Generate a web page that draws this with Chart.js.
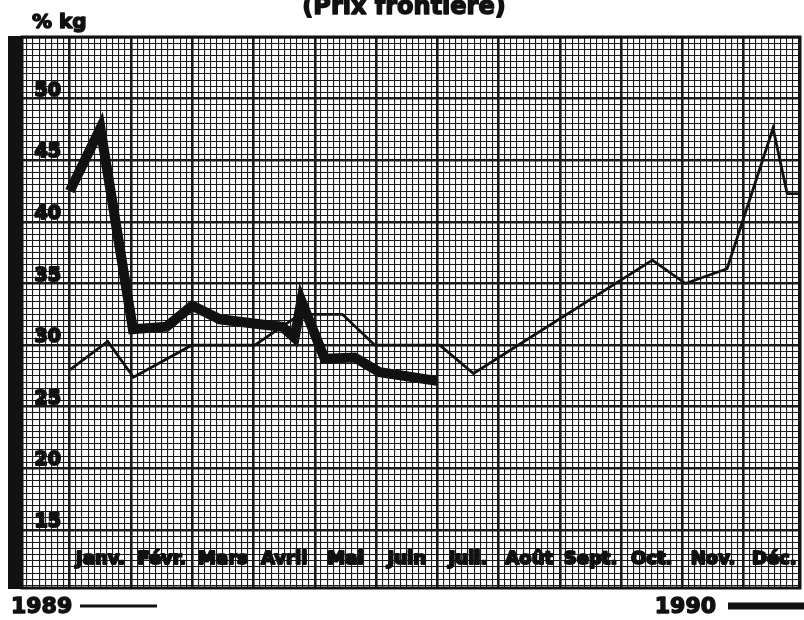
<!DOCTYPE html>
<html>
<head>
<meta charset="utf-8">
<script src="https://cdn.jsdelivr.net/npm/chart.js@4.4.0/dist/chart.umd.min.js"></script>
<style>
  html, body { margin: 0; padding: 0; background: #fff; }
</style>
</head>
<body>
<canvas id="prixChart" width="804" height="620"></canvas>
<script>
// months on the bottom row, one column each
const months = ["Janv.", "Févr.", "Mars", "Avril", "Mai", "Juin", "Juil.", "Août", "Sept.", "Oct.", "Nov.", "Déc."];
const yLabels = [15, 20, 25, 30, 35, 40, 45, 50];

// position in months (0 = start of Janv.) and price in % kg
const pos1989 = [0, 0.62, 1.04, 1.99, 3.02, 3.76, 4.45, 4.98, 6.04, 6.59, 9.51, 10.05, 10.73, 11.48, 11.71, 11.92];
const prix1989 = [28.0, 30.3, 27.4, 30.0, 30.0, 32.5, 32.5, 30.0, 30.0, 27.7, 36.9, 35.0, 36.2, 47.6, 42.3, 42.3];

const pos1990 = [0, 0.5, 1.03, 1.58, 2.0, 2.45, 3.1, 3.47, 3.67, 3.78, 4.16, 4.65, 5.06, 5.99];
const prix1990 = [42.5, 47.6, 31.3, 31.5, 33.2, 32.1, 31.7, 31.5, 30.6, 33.6, 28.9, 29.0, 27.8, 27.1];

const toPoints = (xs, ys) => xs.map((x, i) => ({ x: x, y: ys[i] }));

const font = s => "bold " + s + "px 'DejaVu Sans', sans-serif";

// heavy text: fill plus a stroke to thicken the letters
function heavyText(ctx, txt, x, y, w) {
  ctx.lineWidth = w;
  ctx.lineJoin = "round";
  ctx.fillText(txt, x, y);
  ctx.strokeText(txt, x, y);
}

// graph paper, black bar, borders and all the printed labels
const paperPlugin = {
  id: "paper",
  beforeDraw(chart) {
    const ctx = chart.ctx;
    ctx.save();
    ctx.fillStyle = "#fff";
    ctx.fillRect(0, 0, chart.width, chart.height);
    ctx.restore();
  },
  afterDraw(chart) {
    const ctx = chart.ctx;
    const { left, right, top, bottom } = chart.chartArea;
    const xs = chart.scales.x;
    const ys = chart.scales.y;
    ctx.save();

    // thick black bar on the left
    ctx.fillStyle = "#111";
    ctx.fillRect(8, top - 1, left - 8, bottom - top + 2);

    // frame
    ctx.strokeStyle = "#111";
    ctx.lineWidth = 3;
    ctx.strokeRect(left, top, right - left, bottom - top);

    ctx.fillStyle = "#111";
    ctx.strokeStyle = "#111";

    // y labels inside the first column
    ctx.font = font(19);
    ctx.textAlign = "right";
    ctx.textBaseline = "alphabetic";
    yLabels.forEach(v => {
      const y = ys.getPixelForValue(v);
      heavyText(ctx, String(v), 61, y - 3, 2);
    });

    // month labels on the bottom row
    ctx.font = font(18);
    ctx.textAlign = "center";
    ctx.textBaseline = "middle";
    const rowY = (ys.getPixelForValue(15) + bottom) / 2;
    months.forEach((m, i) => {
      const x = xs.getPixelForValue(i + 0.5);
      heavyText(ctx, m, x, rowY, 2);
    });

    // title (cut off at the top) and unit
    ctx.font = font(24);
    ctx.textAlign = "center";
    ctx.textBaseline = "alphabetic";
    heavyText(ctx, "(Prix frontière)", 404, 14, 1.5);
    ctx.font = font(20);
    ctx.textAlign = "left";
    heavyText(ctx, "% kg", 32, 28, 1.5);

    // legend at the bottom
    const ds = chart.data.datasets;
    ctx.font = font(22);
    heavyText(ctx, ds[1].label, 11, 613, 1.5);
    ctx.lineWidth = 3;
    ctx.beginPath();
    ctx.moveTo(80, 606);
    ctx.lineTo(157, 606);
    ctx.stroke();

    ctx.textAlign = "right";
    heavyText(ctx, ds[0].label, 716, 613, 1.5);
    ctx.lineWidth = 7;
    ctx.beginPath();
    ctx.moveTo(728, 606);
    ctx.lineTo(804, 606);
    ctx.stroke();

    ctx.restore();
  }
};

const xTicks = [];
for (let k = -7; k <= 119; k++) xTicks.push({ value: k / 10 });
const yTicks = [];
for (let k = 21; k <= 110; k++) yTicks.push({ value: k / 2 });

const isMajorX = v => Math.abs(v - Math.round(v)) < 0.001;
const isMajorY = v => Math.abs(v / 5 - Math.round(v / 5)) < 0.001;

new Chart(document.getElementById("prixChart"), {
  type: "line",
  data: {
    datasets: [
      {
        label: "1990",
        data: toPoints(pos1990, prix1990),
        borderColor: "#111",
        borderWidth: 10,
        borderJoinStyle: "miter",
        pointRadius: 0,
        tension: 0
      },
      {
        label: "1989",
        data: toPoints(pos1989, prix1989),
        borderColor: "#111",
        borderWidth: 2.8,
        borderJoinStyle: "miter",
        pointRadius: 0,
        tension: 0
      }
    ]
  },
  options: {
    responsive: false,
    animation: false,
    layout: { padding: { left: 22, right: 4, top: 37, bottom: 32 } },
    plugins: {
      legend: { display: false },
      tooltip: { enabled: false }
    },
    scales: {
      x: {
        type: "linear",
        min: -0.78,
        max: 11.92,
        afterBuildTicks: scale => { scale.ticks = xTicks; },
        ticks: { display: false },
        border: { display: false },
        grid: {
          drawTicks: false,
          color: "#1a1a1a",
          lineWidth: c => (c.tick && isMajorX(c.tick.value) ? 2.6 : 1.1)
        }
      },
      y: {
        min: 10.3,
        max: 55,
        afterBuildTicks: scale => { scale.ticks = yTicks; },
        ticks: { display: false },
        border: { display: false },
        grid: {
          drawTicks: false,
          color: "#1a1a1a",
          lineWidth: c => (c.tick && isMajorY(c.tick.value) ? 2.6 : 1.1)
        }
      }
    }
  },
  plugins: [paperPlugin]
});
</script>
</body>
</html>
